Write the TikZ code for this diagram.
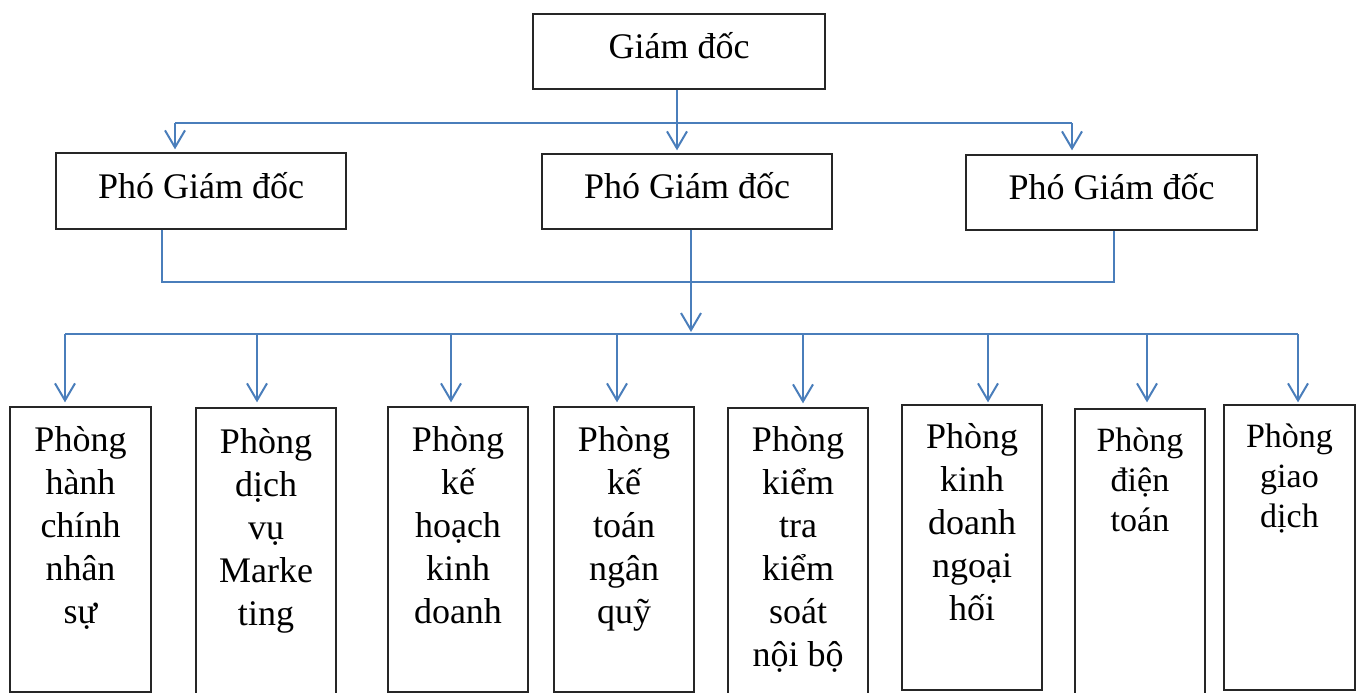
\documentclass[tikz,border=0pt]{standalone}
\usepackage{fontspec}
\setmainfont{Liberation Serif}
\usetikzlibrary{arrows.meta}
\definecolor{linkblue}{HTML}{4A7EBB}
\begin{document}
\begin{tikzpicture}[x=1pt,y=-1pt,
  box/.style={draw=black!85, line width=1.3pt, fill=white, inner sep=0pt},
  link/.style={draw=linkblue, line width=2pt},
  arr/.style={link, -{Straight Barb[length=17pt,width=20pt]}},
  title/.style={font=\fontsize{36}{43}\selectfont, anchor=base, inner sep=0pt},
  dept/.style={font=\fontsize{36}{43}\selectfont, anchor=base, inner sep=0pt},
  deptsmall/.style={font=\fontsize{34}{40}\selectfont, anchor=base, inner sep=0pt}
]
\useasboundingbox (0,0) rectangle (1360,693);
\clip (0,0) rectangle (1360,693);

% director
\node[box, minimum width=292pt, minimum height=75pt] (gd) at (679,51.5) {};
\node[title] (gdt) at (679,59) {Giám đốc};

% deputy directors
\node[box, minimum width=290pt, minimum height=76pt] (pgd1) at (201,191) {};
\node[box, minimum width=290pt, minimum height=75pt] (pgd2) at (687,191.5) {};
\node[box, minimum width=291pt, minimum height=75pt] (pgd3) at (1111.5,192.5) {};
\node[title] (pgd1t) at (201,198) {Phó Giám đốc};
\node[title] (pgd2t) at (687,198) {Phó Giám đốc};
\node[title] (pgd3t) at (1111.5,199) {Phó Giám đốc};

% departments
\node[box, minimum width=141pt, minimum height=285pt] (b1) at (80.5,549.5) {};
\node[box, minimum width=140pt, minimum height=312pt] (b2) at (266,564) {};
\node[box, minimum width=140pt, minimum height=285pt] (b3) at (458,549.5) {};
\node[box, minimum width=140pt, minimum height=285pt] (b4) at (624,549.5) {};
\node[box, minimum width=140pt, minimum height=312pt] (b5) at (798,564) {};
\node[box, minimum width=140pt, minimum height=285pt] (b6) at (972,547.5) {};
\node[box, minimum width=130pt, minimum height=311pt] (b7) at (1140,564.5) {};
\node[box, minimum width=131pt, minimum height=285pt] (b8) at (1289.5,547.5) {};

\node[dept] (b1t) at (80.5,451) {\parbox[t]{140pt}{\centering Phòng\\hành\\chính\\nhân\\sự}};
\node[dept] (b2t) at (266,453) {\parbox[t]{140pt}{\centering Phòng\\dịch\\vụ\\Marke\\ting}};
\node[dept] (b3t) at (458,451) {\parbox[t]{140pt}{\centering Phòng\\kế\\hoạch\\kinh\\doanh}};
\node[dept] (b4t) at (624,451) {\parbox[t]{140pt}{\centering Phòng\\kế\\toán\\ngân\\quỹ}};
\node[dept] (b5t) at (798,451) {\parbox[t]{140pt}{\centering Phòng\\kiểm\\tra\\kiểm\\soát\\nội bộ}};
\node[dept] (b6t) at (972,448) {\parbox[t]{140pt}{\centering Phòng\\kinh\\doanh\\ngoại\\hối}};
\node[deptsmall] (b7t) at (1140,451) {\parbox[t]{130pt}{\centering Phòng\\điện\\toán}};
\node[deptsmall] (b8t) at (1289.5,447) {\parbox[t]{130pt}{\centering Phòng\\giao\\dịch}};

% director to deputies
\coordinate (t1) at (175,123);
\coordinate (t2) at (677,123);
\coordinate (t3) at (1072,123);
\draw[link] (t1) -- (t3);
\draw[arr, shorten >=3pt] (gd.south -| t2) -- (t2 |- pgd2.north);
\draw[arr, shorten >=3pt] (t1) -- (t1 |- pgd1.north);
\draw[arr, shorten >=4pt] (t3) -- (t3 |- pgd3.north);

% deputies to departments
\coordinate (c1) at (162,282);
\coordinate (c3) at (1114,282);
\draw[link] (pgd1.south -| c1) -- (c1) -- (c3) -- (pgd3.south -| c3);
\coordinate (hub) at (691,334);
\draw[arr, shorten >=2pt] (pgd2.south -| hub) -- (hub);
\coordinate (bL) at (65,334);
\coordinate (bR) at (1298,334);
\draw[link] (bL) -- (bR);
\foreach \i/\x/\s in {1/65/4,2/257/5,3/451/4,4/617/4,5/803/4,6/988/2,7/1147/6,8/1298/2}{
  \coordinate (d\i) at (\x,334);
  \draw[arr, shorten >=\s pt] (d\i) -- (d\i |- b\i.north);
}
\end{tikzpicture}
\end{document}
